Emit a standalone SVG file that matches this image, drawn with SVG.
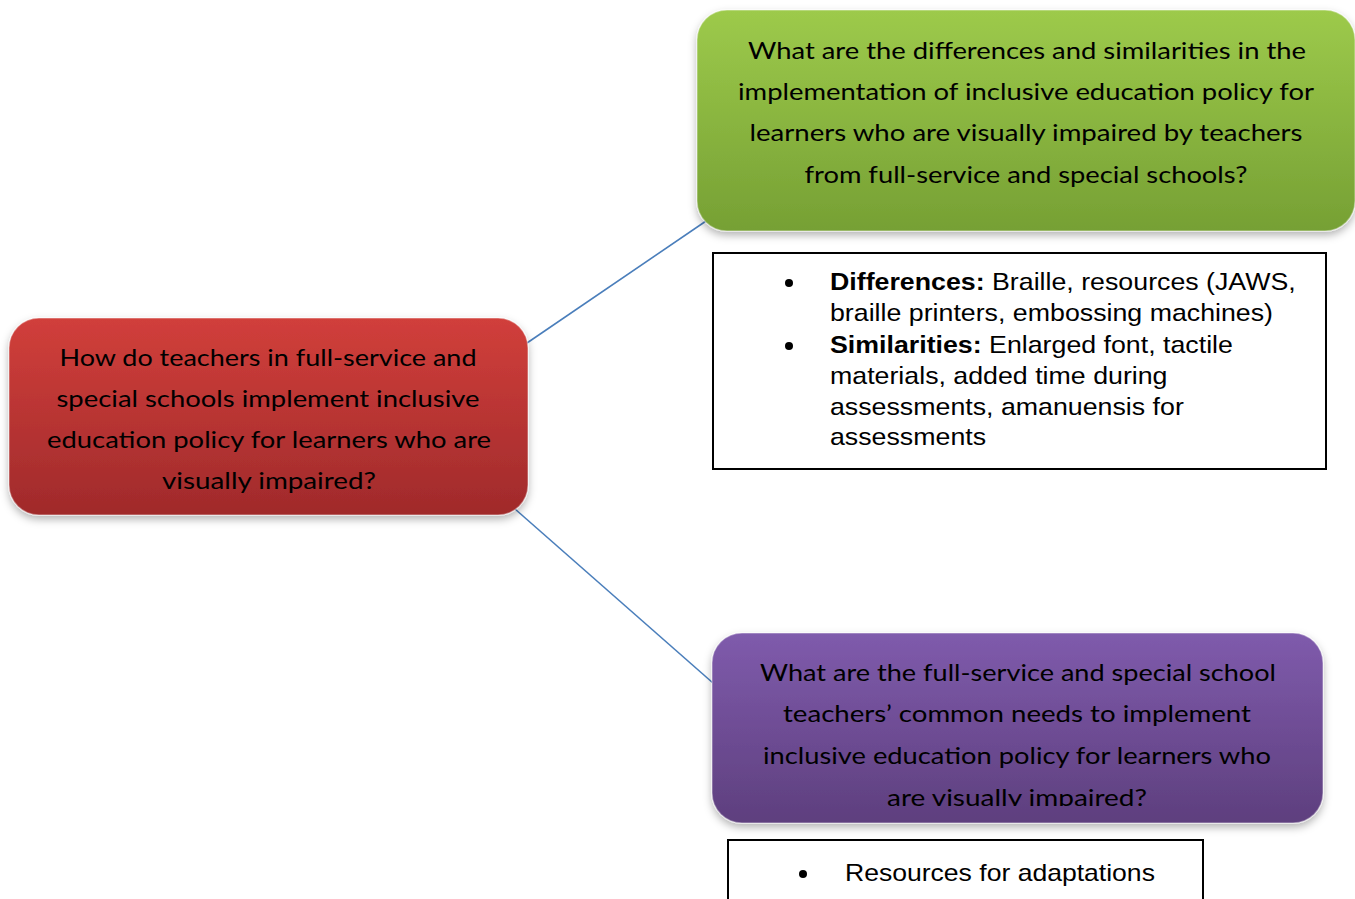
<svg xmlns="http://www.w3.org/2000/svg" width="1355" height="899" viewBox="0 0 1355 899">
<style>
.q{font-family:Lato,"Open Sans",sans-serif;font-size:24px;fill:#000;text-anchor:middle}
.b{font-family:"Liberation Sans",Arial,sans-serif;font-size:24px;fill:#000}
.bx{fill:#fff;stroke:#000;stroke-width:2}
.conn{stroke:#4A7EBB;stroke-width:1.6;fill:none}
.rb{stroke:#ffffff;stroke-opacity:0.35;stroke-width:1.5}
</style>
<defs>
<linearGradient id="gG" x1="0" y1="0" x2="0" y2="1"><stop offset="0" stop-color="#9DCA4B"/><stop offset="1" stop-color="#76A034"/></linearGradient>
<linearGradient id="gR" x1="0" y1="0" x2="0" y2="1"><stop offset="0" stop-color="#D13F3B"/><stop offset="1" stop-color="#A02A2B"/></linearGradient>
<linearGradient id="gP" x1="0" y1="0" x2="0" y2="1"><stop offset="0" stop-color="#7F5BAC"/><stop offset="1" stop-color="#5E3F7E"/></linearGradient>
<filter id="sh" x="-10%" y="-10%" width="120%" height="130%"><feDropShadow dx="0" dy="4" stdDeviation="4" flood-color="#000" flood-opacity="0.3"/></filter>
<clipPath id="clipP"><rect x="712" y="633" width="612" height="173"/></clipPath>
</defs>
<g id="connectors">
<line class="conn" x1="527" y1="343" x2="709" y2="219"/>
<line class="conn" x1="515" y1="509" x2="713" y2="683"/>
</g>
<g id="node-main">
<rect class="rb" x="9" y="318" width="519" height="197" rx="30" fill="url(#gR)" filter="url(#sh)"/>
<text class="q" x="268" y="366" textLength="417" lengthAdjust="spacingAndGlyphs">How do teachers in full-service and</text>
<text class="q" x="268" y="407" textLength="423" lengthAdjust="spacingAndGlyphs">special schools implement inclusive</text>
<text class="q" x="269" y="448" textLength="444" lengthAdjust="spacingAndGlyphs">education policy for learners who are</text>
<text class="q" x="269" y="489" textLength="214" lengthAdjust="spacingAndGlyphs">visually impaired?</text>
</g>
<g id="node-diff">
<rect class="rb" x="697" y="10" width="658" height="221" rx="30" fill="url(#gG)" filter="url(#sh)"/>
<text class="q" x="1027" y="59" textLength="558" lengthAdjust="spacingAndGlyphs">What are the differences and similarities in the</text>
<text class="q" x="1026" y="100" textLength="576" lengthAdjust="spacingAndGlyphs">implementation of inclusive education policy for</text>
<text class="q" x="1026" y="141" textLength="553" lengthAdjust="spacingAndGlyphs">learners who are visually impaired by teachers</text>
<text class="q" x="1026" y="183" textLength="443" lengthAdjust="spacingAndGlyphs">from full-service and special schools?</text>
</g>
<g id="node-diff-details">
<rect class="bx" x="713" y="253" width="613" height="216"/>
<circle cx="789" cy="283" r="4"/>
<circle cx="789" cy="346" r="4"/>
<g transform="matrix(1.115 0 0 1 -95.45 0)">
<text class="b" x="830" y="290"><tspan font-weight="bold">Differences:</tspan> Braille, resources (JAWS,</text>
<text class="b" x="830" y="321">braille printers, embossing machines)</text>
<text class="b" x="830" y="353"><tspan font-weight="bold">Similarities:</tspan> Enlarged font, tactile</text>
<text class="b" x="830" y="384">materials, added time during</text>
<text class="b" x="830" y="415">assessments, amanuensis for</text>
<text class="b" x="830" y="445">assessments</text>
</g>
</g>
<g id="node-needs">
<rect class="rb" x="712" y="633" width="611" height="190" rx="30" fill="url(#gP)" filter="url(#sh)"/>
<text class="q" x="1018" y="681" textLength="516" lengthAdjust="spacingAndGlyphs">What are the full-service and special school</text>
<text class="q" x="1017" y="722" textLength="468" lengthAdjust="spacingAndGlyphs">teachers’ common needs to implement</text>
<text class="q" x="1017" y="764" textLength="508" lengthAdjust="spacingAndGlyphs">inclusive education policy for learners who</text>
<text class="q" x="1017" y="806" clip-path="url(#clipP)" textLength="260" lengthAdjust="spacingAndGlyphs">are visually impaired?</text>
</g>
<g id="node-needs-details">
<rect class="bx" x="728" y="840" width="475" height="80"/>
<circle cx="803" cy="874" r="4"/>
<text class="b" x="845" y="881" transform="matrix(1.107 0 0 1 -90.4 0)">Resources for adaptations</text>
</g>
</svg>
